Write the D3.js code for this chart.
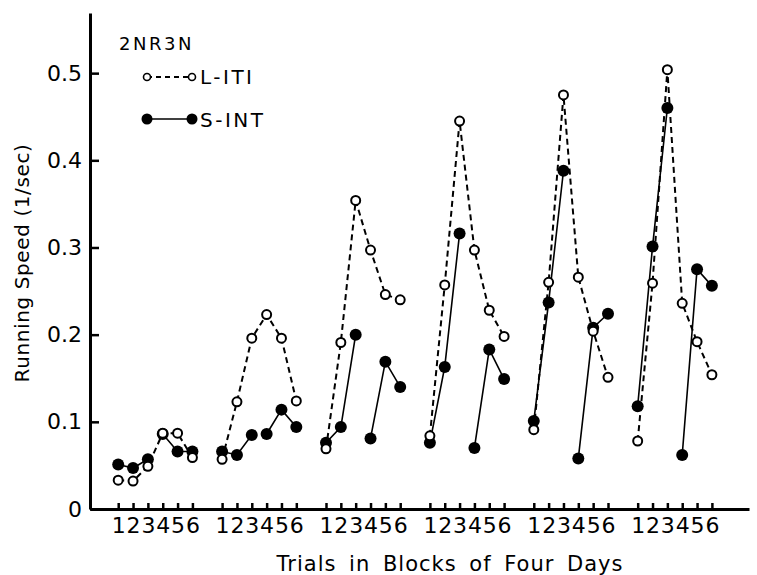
<!DOCTYPE html>
<html>
<head>
<meta charset="utf-8">
<script src="https://cdn.jsdelivr.net/npm/d3@7"></script>
<style>
  html, body { margin: 0; padding: 0; background: #fff; }
  svg { display: block; }
  text { font-family: "DejaVu Sans", sans-serif; fill: #000; }
</style>
</head>
<body>
<svg id="chart" width="757" height="575"></svg>
<script>
// ---- data ----
const blocks = [1, 2, 3, 4, 5, 6];           // blocks of four days
const trialLabels = ["1", "2", "3", "4", "5", "6"];
const yTicks = [0, 0.1, 0.2, 0.3, 0.4, 0.5];
const groupLabel = "2NR3N";
const seriesNames = ["L-ITI", "S-INT"];

// L-ITI (open circles, dashed) – trials 1..6 in each block
const lIti = [
  [0.033, 0.032, 0.049, 0.087, 0.087, 0.059],
  [0.057, 0.123, 0.196, 0.223, 0.196, 0.124],
  [0.069, 0.191, 0.354, 0.297, 0.246, 0.240],
  [0.084, 0.257, 0.445, 0.297, 0.228, 0.198],
  [0.091, 0.260, 0.475, 0.266, 0.204, 0.151],
  [0.078, 0.259, 0.504, 0.236, 0.192, 0.154]
];
// S-INT (filled circles, solid) – trials 1..6 in each block
const sInt = [
  [0.051, 0.047, 0.057, 0.086, 0.066, 0.066],
  [0.066, 0.062, 0.085, 0.086, 0.114, 0.094],
  [0.076, 0.094, 0.200, 0.081, 0.169, 0.140],
  [0.076, 0.163, 0.316, 0.070, 0.183, 0.149],
  [0.101, 0.237, 0.388, 0.058, 0.208, 0.224],
  [0.118, 0.301, 0.460, 0.062, 0.275, 0.256]
];

// ---- layout ----
const svg = d3.select("#chart");
const slots = 7; // 6 trials + one gap slot per block
const pos = (b, t) => b * slots + t;   // b: block index 0..5, t: trial index 0..5

const x = d3.scaleLinear().domain([-1.9, 42.5]).range([90, 749]);
const y = d3.scaleLinear().domain([0, 0.569]).range([509, 13]);

// y axis
const yAxis = d3.axisLeft(y)
  .tickValues(yTicks)
  .tickFormat(d => d === 0 ? "0" : d3.format(".1f")(d))
  .tickSizeInner(-9).tickSizeOuter(0).tickPadding(8);
const gy = svg.append("g").attr("transform", `translate(${x.range()[0]},0)`).call(yAxis);
gy.select(".domain").attr("stroke", "#000").attr("stroke-width", 3);
gy.selectAll(".tick line").attr("stroke", "#000").attr("stroke-width", 2.5);
gy.selectAll(".tick text").style("font-size", "22px").style("font-family", "DejaVu Sans, sans-serif");

// x axis
const xTickVals = [];
blocks.forEach((b, bi) => trialLabels.forEach((t, ti) => xTickVals.push(pos(bi, ti))));
const xAxis = d3.axisBottom(x)
  .tickValues(xTickVals)
  .tickFormat(d => trialLabels[d % slots])
  .tickSizeInner(-6).tickSizeOuter(0).tickPadding(8);
const gx = svg.append("g").attr("transform", `translate(0,${y(0)})`).call(xAxis);
gx.select(".domain").attr("stroke", "#000").attr("stroke-width", 3);
gx.selectAll(".tick line").attr("stroke", "#000").attr("stroke-width", 2.5);
gx.selectAll(".tick text").style("font-size", "22px").style("font-family", "DejaVu Sans, sans-serif");

// axis titles
svg.append("text")
  .attr("transform", "translate(29,263) rotate(-90)")
  .attr("text-anchor", "middle")
  .style("font-size", "20px").style("letter-spacing", "0.6px")
  .text("Running Speed (1/sec)");
svg.append("text")
  .attr("x", 450).attr("y", 571)
  .attr("text-anchor", "middle")
  .style("font-size", "21px").style("letter-spacing", "1px").style("word-spacing", "5px")
  .text("Trials in Blocks of Four Days");

// ---- series ----
const lineGen = d3.line().x(d => x(d.p)).y(d => y(d.v));

// L-ITI: connected through all six trials in a block
lIti.forEach((vals, bi) => {
  const pts = vals.map((v, ti) => ({ p: pos(bi, ti), v }));
  svg.append("path").datum(pts).attr("d", lineGen)
    .attr("fill", "none").attr("stroke", "#000").attr("stroke-width", 2)
    .attr("stroke-dasharray", "6,4");
});
// S-INT: trials 1-3 and 4-6 connected separately
sInt.forEach((vals, bi) => {
  [[0, 3], [3, 6]].forEach(([a, b]) => {
    const pts = vals.slice(a, b).map((v, k) => ({ p: pos(bi, a + k), v }));
    svg.append("path").datum(pts).attr("d", lineGen)
      .attr("fill", "none").attr("stroke", "#000").attr("stroke-width", 1.6);
  });
});
// markers
sInt.forEach((vals, bi) => {
  svg.selectAll(null).data(vals.map((v, ti) => ({ p: pos(bi, ti), v }))).enter()
    .append("circle").attr("cx", d => x(d.p)).attr("cy", d => y(d.v)).attr("r", 6)
    .attr("fill", "#000");
});
lIti.forEach((vals, bi) => {
  svg.selectAll(null).data(vals.map((v, ti) => ({ p: pos(bi, ti), v }))).enter()
    .append("circle").attr("cx", d => x(d.p)).attr("cy", d => y(d.v)).attr("r", 4.5)
    .attr("fill", "#fff").attr("stroke", "#000").attr("stroke-width", 2);
});

// ---- legend ----
svg.append("text").attr("x", 119).attr("y", 50)
  .style("font-size", "18px").style("letter-spacing", "2.5px").text(groupLabel);

svg.append("line").attr("x1", 147).attr("x2", 192).attr("y1", 77).attr("y2", 77)
  .attr("stroke", "#000").attr("stroke-width", 1.8).attr("stroke-dasharray", "5,4");
[147, 192].forEach(cx => svg.append("circle").attr("cx", cx).attr("cy", 77).attr("r", 3.5)
  .attr("fill", "#fff").attr("stroke", "#000").attr("stroke-width", 1.6));
svg.append("text").attr("x", 200).attr("y", 84)
  .style("font-size", "20px").style("letter-spacing", "2.5px").text(seriesNames[0]);

svg.append("line").attr("x1", 147).attr("x2", 192).attr("y1", 119).attr("y2", 119)
  .attr("stroke", "#000").attr("stroke-width", 1.6);
[147, 192].forEach(cx => svg.append("circle").attr("cx", cx).attr("cy", 119).attr("r", 5.5)
  .attr("fill", "#000"));
svg.append("text").attr("x", 200).attr("y", 127)
  .style("font-size", "20px").style("letter-spacing", "2.5px").text(seriesNames[1]);
</script>
</body>
</html>
